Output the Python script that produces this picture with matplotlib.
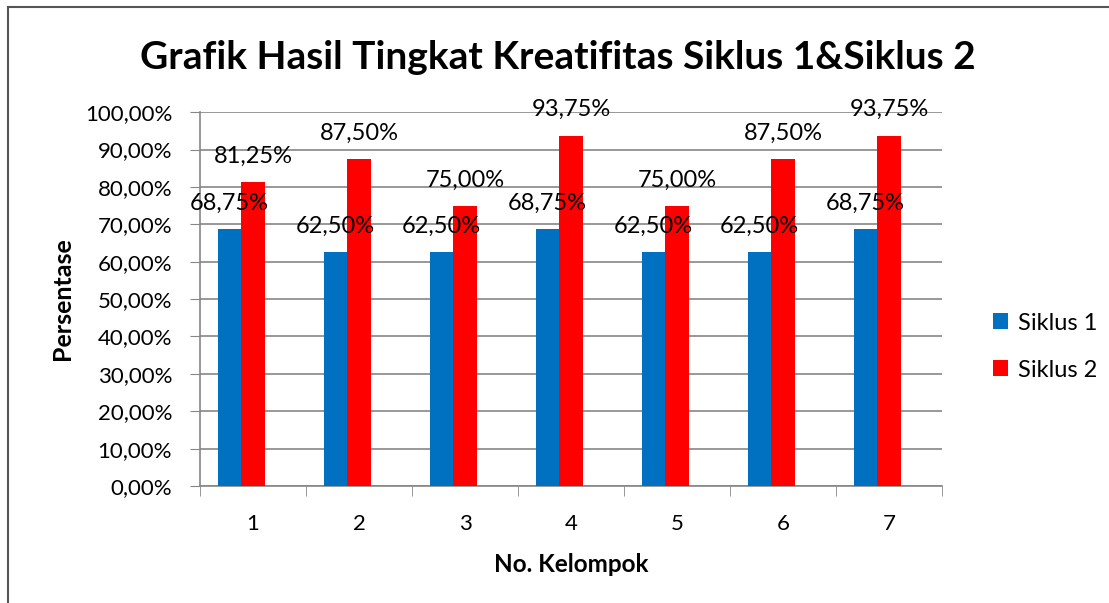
import numpy as np
import matplotlib.pyplot as plt
from matplotlib.ticker import FuncFormatter
from matplotlib.lines import Line2D

plt.rcParams['font.family'] = ['Lato', 'DejaVu Sans']

groups = ['1', '2', '3', '4', '5', '6', '7']
siklus1 = [68.75, 62.50, 62.50, 68.75, 62.50, 62.50, 68.75]
siklus2 = [81.25, 87.50, 75.00, 93.75, 75.00, 87.50, 93.75]
series_names = ['Siklus 1', 'Siklus 2']
colors = ['#0070C0', '#FF0000']


def pct(v, pos=None):
    return f'{v:.2f}%'.replace('.', ',')


fig = plt.figure(figsize=(11.09, 6.03), dpi=100)
ax = fig.add_axes([0.1803, 0.194, 0.6691, 0.620])

x = np.arange(len(groups))
w = 0.22
# bar pair sits slightly left of the category centre, as in the original
b1 = ax.bar(x - w, siklus1, w, color=colors[0], label=series_names[0], zorder=3)
b2 = ax.bar(x, siklus2, w, color=colors[1], label=series_names[1], zorder=3)

for bars, vals in [(b1, siklus1), (b2, siklus2)]:
    for r, v in zip(bars, vals):
        ax.annotate(pct(v), (r.get_x() + r.get_width() / 2, v),
                    xytext=(0, 11), textcoords='offset points',
                    ha='center', va='bottom', fontsize=17, zorder=4)

ax.set_xlim(-0.5, len(groups) - 0.5)
ax.set_ylim(0, 100)
ax.set_yticks(np.arange(0, 101, 10))
ax.yaxis.set_major_formatter(FuncFormatter(pct))
ax.set_xticks(x)
ax.set_xticklabels(groups)
ax.set_xticks(np.arange(-0.5, len(groups), 1), minor=True)
ax.tick_params(axis='x', which='major', length=0, pad=20, labelsize=16)
ax.tick_params(axis='x', which='minor', length=7, color='#868686', direction='out')
ax.tick_params(axis='y', length=7, color='#868686', labelsize=16, pad=13)
ax.grid(axis='y', color='#868686', linewidth=1.2, zorder=0)

for s in ['top', 'right']:
    ax.spines[s].set_visible(False)
for s in ['left', 'bottom']:
    ax.spines[s].set_color('#868686')
    ax.spines[s].set_linewidth(1.2)

ax.set_ylabel('Persentase', fontsize=18, fontweight='bold', labelpad=8)
ax.set_xlabel('No. Kelompok', fontsize=17.5, fontweight='bold', labelpad=14)

fig.text(0.503, 0.905, 'Grafik Hasil Tingkat Kreatifitas Siklus 1&Siklus 2',
         ha='center', va='center', fontsize=28, fontweight='bold')

ax.legend(loc='center left', bbox_to_anchor=(1.04, 0.373), frameon=False,
          fontsize=17, handlelength=0.65, handleheight=0.65, handletextpad=0.4,
          labelspacing=1.1)

fig.add_artist(Line2D([0.0075, 0.0075], [0, 0.988], color='#555555', lw=1.5,
                      transform=fig.transFigure))
fig.add_artist(Line2D([0.0075, 1.0], [0.988, 0.988], color='#555555', lw=1.5,
                      transform=fig.transFigure))

fig.savefig('out.png', dpi=100)
